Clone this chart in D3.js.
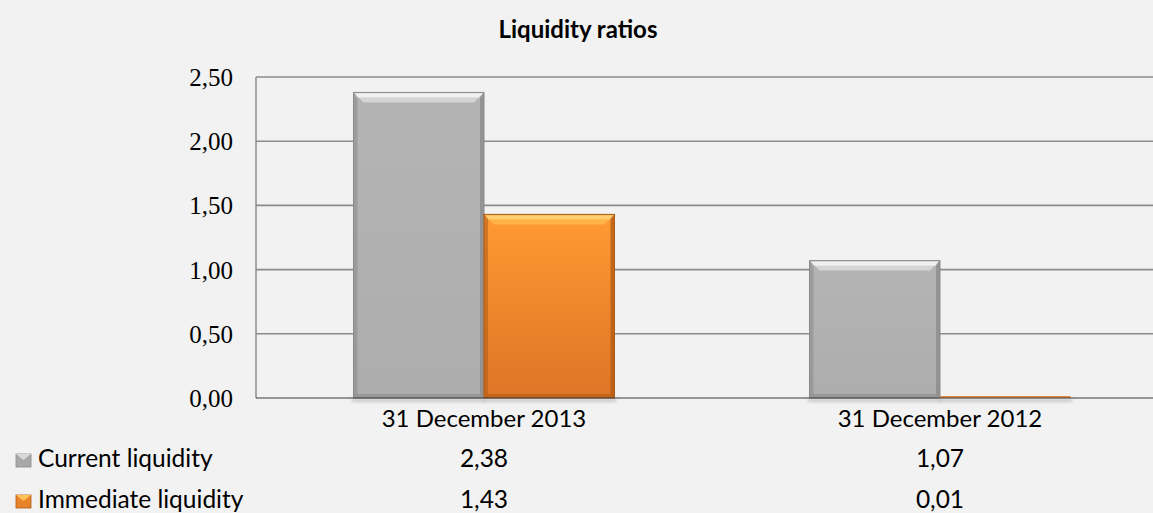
<!DOCTYPE html>
<html>
<head>
<meta charset="utf-8">
<script src="https://d3js.org/d3.v7.min.js"></script>
<style>
  html, body { margin: 0; padding: 0; background: #f2f2f2; }
</style>
</head>
<body>
<div id="chart"></div>
<script>
const categories = ["31 December 2013", "31 December 2012"];
const seriesNames = ["Current liquidity", "Immediate liquidity"];
const currentLiquidity = [2.38, 1.07];
const immediateLiquidity = [1.43, 0.01];
const yTicks = [0, 0.5, 1, 1.5, 2, 2.5];

const W = 1153, H = 513;
const sansFont = "Lato, 'Open Sans', sans-serif";
const fmt = v => d3.format(".2f")(v).replace(".", ",");

const data = categories.map((c, i) => ({
  cat: c,
  values: [currentLiquidity[i], immediateLiquidity[i]]
}));

const svg = d3.select("#chart").append("svg")
  .attr("width", W).attr("height", H)
  .style("background", "#f2f2f2");

const defs = svg.append("defs");

const grayGrad = defs.append("linearGradient").attr("id", "g0").attr("x1", 0).attr("y1", 0).attr("x2", 0).attr("y2", 1);
grayGrad.append("stop").attr("offset", 0).attr("stop-color", "#b4b4b4");
grayGrad.append("stop").attr("offset", 1).attr("stop-color", "#adadad");

const orGrad = defs.append("linearGradient").attr("id", "g1").attr("x1", 0).attr("y1", 0).attr("x2", 0).attr("y2", 1);
orGrad.append("stop").attr("offset", 0).attr("stop-color", "#ff9a33");
orGrad.append("stop").attr("offset", 1).attr("stop-color", "#dc7526");

const shadowBlur = defs.append("filter").attr("id", "blur")
  .attr("x", "-10%").attr("y", "-100%").attr("width", "120%").attr("height", "300%");
shadowBlur.append("feGaussianBlur").attr("stdDeviation", 1.5);

const plotLeft = 256, plotRight = 1168;
const plotTop = 77, plotBottom = 398;

const x0 = d3.scaleBand().domain(categories).range([plotLeft, plotRight]).padding(0);
const x1 = d3.scaleBand().domain([0, 1]).range([0, x0.bandwidth()])
  .paddingInner(0).paddingOuter(0.747);
const y = d3.scaleLinear().domain([0, 2.5]).range([plotBottom, plotTop]);

const fills = ["url(#g0)", "url(#g1)"];
const edgeDark = ["#8a8a8a", "#b05a14"];
const topLight = ["#f4f4f4", "#ffd27a"];
const topMid = ["#d4d4d4", "#ffb347"];

// Title
svg.append("text")
  .attr("x", 578).attr("y", 38)
  .attr("text-anchor", "middle")
  .style("font-family", sansFont)
  .style("font-weight", "bold")
  .style("font-size", "24px")
  .text("Liquidity ratios");

// Gridlines
svg.append("g").selectAll("line")
  .data(yTicks.filter(t => t > 0))
  .join("line")
  .attr("x1", plotLeft).attr("x2", W)
  .attr("y1", d => y(d)).attr("y2", d => y(d))
  .attr("stroke", "#8c8c8c").attr("stroke-width", 1.6);

// Left axis line
svg.append("line")
  .attr("x1", plotLeft).attr("x2", plotLeft)
  .attr("y1", y(2.5)).attr("y2", y(0))
  .attr("stroke", "#8c8c8c").attr("stroke-width", 1.5);

// Y tick labels
svg.append("g").selectAll("text")
  .data(yTicks)
  .join("text")
  .attr("x", 233).attr("y", d => y(d) + 9)
  .attr("text-anchor", "end")
  .style("font-family", "'Liberation Serif', 'Times New Roman', serif")
  .style("font-size", "25px")
  .text(fmt);

// Bars
const groups = svg.append("g").selectAll("g")
  .data(data)
  .join("g")
  .attr("transform", d => `translate(${x0(d.cat)},0)`);

const bars = groups.selectAll("g.bar")
  .data(d => d.values.map((v, i) => ({ v, i })))
  .join("g").attr("class", "bar");

// shadow beneath
bars.append("rect")
  .attr("x", d => x1(d.i) - 2)
  .attr("y", y(0) + 1)
  .attr("width", x1.bandwidth() + 4)
  .attr("height", 3)
  .attr("fill", "#c8c8c8")
  .attr("filter", "url(#blur)");

bars.append("rect")
  .attr("x", d => x1(d.i))
  .attr("y", d => y(d.v))
  .attr("width", x1.bandwidth())
  .attr("height", d => y(0) - y(d.v))
  .attr("fill", d => fills[d.i]);

// bevel pieces (only for bars tall enough)
const tall = bars.filter(d => y(0) - y(d.v) > 20);
const bev = 10;
tall.append("polygon")
  .attr("points", d => {
    const xl = x1(d.i), xr = xl + x1.bandwidth(), yt = y(d.v);
    return `${xl},${yt} ${xr},${yt} ${xr - bev},${yt + bev} ${xl + bev},${yt + bev}`;
  })
  .attr("fill", d => topMid[d.i]);
tall.append("rect")
  .attr("x", d => x1(d.i) + 2)
  .attr("y", d => y(d.v) + 1)
  .attr("width", x1.bandwidth() - 4)
  .attr("height", 4)
  .attr("fill", d => topLight[d.i])
  .attr("opacity", 0.85);
tall.append("polygon")
  .attr("points", d => {
    const xl = x1(d.i), yt = y(d.v), yb = y(0);
    return `${xl},${yt} ${xl + 4},${yt + 4} ${xl + 4},${yb - 3} ${xl},${yb}`;
  })
  .attr("fill", d => edgeDark[d.i]).attr("opacity", 0.55);
tall.append("polygon")
  .attr("points", d => {
    const xr = x1(d.i) + x1.bandwidth(), yt = y(d.v), yb = y(0);
    return `${xr},${yt} ${xr - 4},${yt + 4} ${xr - 4},${yb - 3} ${xr},${yb}`;
  })
  .attr("fill", d => edgeDark[d.i]).attr("opacity", 0.75);
tall.append("polygon")
  .attr("points", d => {
    const xl = x1(d.i), xr = xl + x1.bandwidth(), yb = y(0);
    return `${xl},${yb} ${xr},${yb} ${xr - 4},${yb - 4} ${xl + 4},${yb - 4}`;
  })
  .attr("fill", d => edgeDark[d.i]).attr("opacity", 0.6);
tall.append("rect")
  .attr("x", d => x1(d.i))
  .attr("y", d => y(d.v))
  .attr("width", x1.bandwidth())
  .attr("height", d => y(0) - y(d.v))
  .attr("fill", "none")
  .attr("stroke", d => edgeDark[d.i])
  .attr("stroke-width", 1);

// thin bar for tiny values
bars.filter(d => y(0) - y(d.v) <= 20).append("rect")
  .attr("x", d => x1(d.i))
  .attr("y", d => y(0) - 2)
  .attr("width", x1.bandwidth())
  .attr("height", 2)
  .attr("fill", "#e08a45");

// Baseline
svg.append("line")
  .attr("x1", plotLeft).attr("x2", W)
  .attr("y1", y(0)).attr("y2", y(0))
  .attr("stroke", "#3a3a3a").attr("stroke-width", 1.2);

// Category labels
svg.append("g").selectAll("text")
  .data(categories)
  .join("text")
  .attr("x", d => x0(d) + x0.bandwidth() / 2)
  .attr("y", 427)
  .attr("text-anchor", "middle")
  .style("font-family", sansFont)
  .style("font-size", "24px")
  .text(d => d);

// Data table rows
const rowY = [467, 508];
const seriesValues = [currentLiquidity, immediateLiquidity];
const markerTop = ["#d8d8d8", "#ffc15a"];
const markerBody = ["#a8a8a8", "#e8832a"];

seriesNames.forEach((name, s) => {
  const row = svg.append("g");
  const my = rowY[s] - 13;
  row.append("rect")
    .attr("x", 16).attr("y", my).attr("width", 15).attr("height", 13)
    .attr("fill", markerBody[s]).attr("stroke", edgeDark[s]).attr("stroke-width", 0.8);
  row.append("polygon")
    .attr("points", `16,${my} 31,${my} 23.5,${my + 6}`)
    .attr("fill", markerTop[s]);
  row.append("text")
    .attr("x", 38).attr("y", rowY[s])
    .style("font-family", sansFont)
    .style("font-size", "24.5px")
    .text(name);
  row.selectAll("text.val")
    .data(seriesValues[s])
    .join("text").attr("class", "val")
    .attr("x", (d, i) => x0(categories[i]) + x0.bandwidth() / 2)
    .attr("y", rowY[s])
    .attr("text-anchor", "middle")
    .style("font-family", sansFont)
    .style("font-size", "24.5px")
    .text(fmt);
});
</script>
</body>
</html>
